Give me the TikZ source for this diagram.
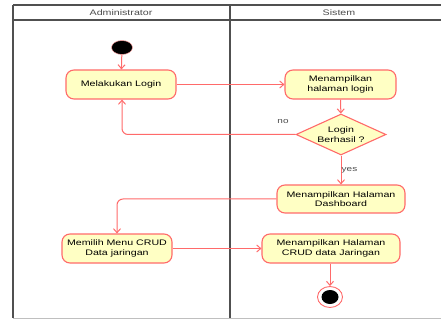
\documentclass[tikz,border=0pt]{standalone}
\usepackage{fontspec}
\newfontfamily\labfont[FakeStretch=1.33]{Liberation Sans}
\usetikzlibrary{shapes.geometric,arrows.meta}
\definecolor{edgered}{HTML}{FF6A6A}
\definecolor{nodefill}{HTML}{FFFFC4}
\definecolor{framegray}{HTML}{505050}
\tikzset{
  act/.style={draw=edgered, fill=nodefill, line width=1.1pt, rounded corners=8pt,
    minimum height=29pt, inner sep=0pt, align=center,
    font=\labfont\fontsize{8}{9.3}\selectfont},
  dec/.style={draw=edgered, fill=nodefill, line width=1.1pt, diamond, aspect=2.2,
    minimum width=90pt, minimum height=41pt, inner sep=0pt, align=center,
    font=\labfont\fontsize{8}{9.3}\selectfont},
  flow/.style={draw=edgered, line width=1pt, -{Straight Barb[length=4pt,width=7pt]}},
  lane/.style={draw=framegray, line width=1.4pt},
  lanetxt/.style={text=black!70, font=\labfont\fontsize{8}{9.3}\selectfont, inner sep=0pt},
  guard/.style={text=black!70, font=\labfont\fontsize{7.5}{9}\selectfont, inner sep=0pt}
}
\begin{document}
\begin{tikzpicture}[x=1pt,y=-1pt]
\clip (0,0) rectangle (441,320);
\fill[white] (0,0) rectangle (441,320);
% swimlanes
\draw[lane] (13,5) -- (445,5);
\draw[lane] (13,20) -- (445,20);
\draw[lane] (13,5) -- (13,318);
\draw[lane] (230,5) -- (230,318);
\draw[draw=black!25, line width=0.6pt] (13,318) -- (445,318);
\node[lanetxt] (hA) at (121,13) {Administrator};
\node[lanetxt] (hS) at (339,13) {Sistem};
% start
\node[draw=edgered!60, fill=black, ellipse, minimum width=21pt, minimum height=14pt, inner sep=0pt, line width=0.5pt] (start) at (122,47.5) {};
% activities
\node[act, minimum width=110pt] (login) at (121,84.5) {Melakukan Login};
\node[act, minimum width=111pt] (hal) at (340.5,84.5) {Menampilkan\\halaman login};
\node[dec] (cek) at (341,134.5) {Login\\Berhasil ?};
\node[act, minimum width=128pt, minimum height=28pt] (dash) at (341,199) {Menampilkan Halaman\\Dashboard};
\node[act, minimum width=110pt] (menu) at (117,248.5) {Memilih Menu CRUD\\Data jaringan};
\node[act, minimum width=138pt] (crud) at (331,248.5) {Menampilkan Halaman\\CRUD data Jaringan};
% end
\node[draw=edgered, fill=white, ellipse, minimum width=25pt, minimum height=21pt, inner sep=0pt, line width=0.9pt] (stop) at (330,297) {};
\node[fill=black, ellipse, minimum width=17pt, minimum height=14pt, inner sep=0pt] (stopin) at (stop.center) {};
% flows
\draw[flow] (start) -- (login);
\draw[flow] (login) -- (hal);
\draw[flow] (hal) -- (cek);
\draw[flow, rounded corners=6pt] (cek.west) -- (122,134.5) -- (login.south -| 122,0);
\node[guard] (no) at (283,122) {no};
\draw[flow] (cek) -- (dash);
\node[guard] (yes) at (349.5,170) {yes};
\draw[flow, rounded corners=6pt] (dash.west) -- (117,199) -- (menu.north);
\draw[flow] (menu) -- (crud);
\draw[flow] (crud.south -| stop) -- (stop);
\end{tikzpicture}
\end{document}
